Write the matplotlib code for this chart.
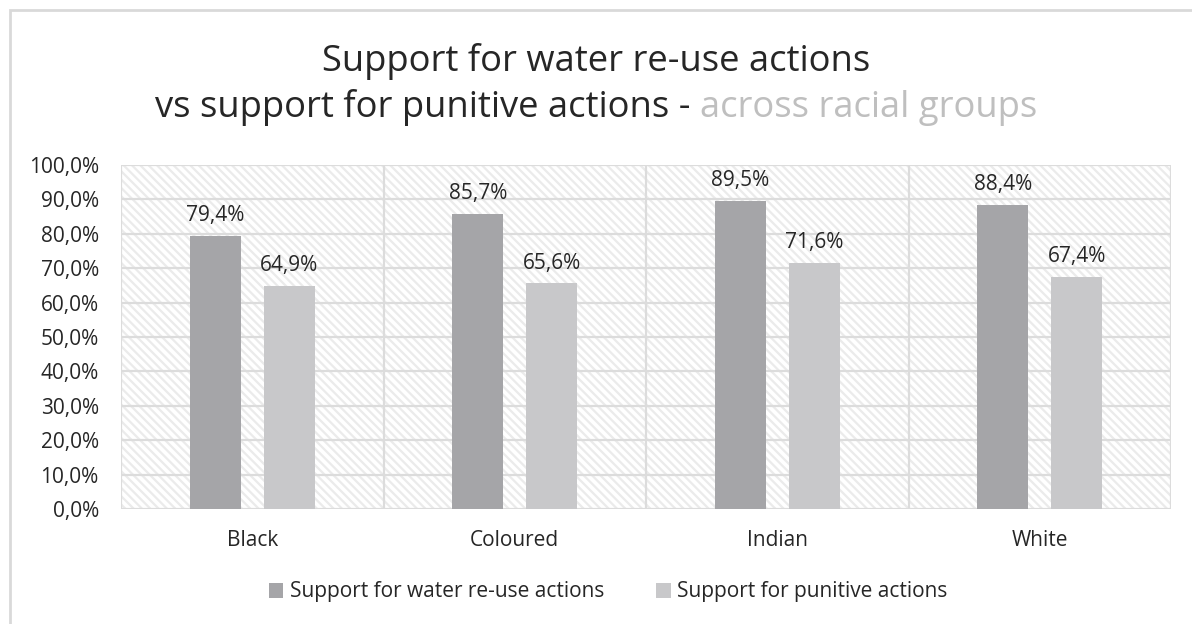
import matplotlib
matplotlib.use("Agg")
import matplotlib.pyplot as plt
from matplotlib.patches import Rectangle
import numpy as np

plt.rcParams['font.family'] = ['Open Sans', 'DejaVu Sans']
plt.rcParams['hatch.linewidth'] = 1.6

groups = ["Black", "Coloured", "Indian", "White"]
reuse = [79.4, 85.7, 89.5, 88.4]
punitive = [64.9, 65.6, 71.6, 67.4]
series_names = ["Support for water re-use actions", "Support for punitive actions"]
ytick_vals = list(range(0, 101, 10))

c_dark = '#a5a5a8'
c_light = '#c8c8ca'
grid_c = '#dcdcdc'
hatch_c = '#ebebeb'
text_c = '#262626'
fs = 15

fig = plt.figure(figsize=(11.92, 6.24), dpi=100)
fig.patch.set_facecolor('white')

# outer chart frame (extends past the right/bottom edges)
fig.patches.append(Rectangle((10 / 1192, -0.05), 1.2, 1 - 10 / 624 + 0.05,
                             transform=fig.transFigure, fill=False,
                             edgecolor='#d9d9d9', linewidth=2.0))

L, R, B, T = 121 / 1192, 1171 / 1192, 1 - 509 / 624, 1 - 165 / 624
ax = fig.add_axes([L, B, R - L, T - B])
ax.set_xlim(-0.5, len(groups) - 0.5)
ax.set_ylim(0, 100)

# patterned plot background
ax.add_patch(Rectangle((0, 0), 1, 1, transform=ax.transAxes, facecolor='white',
                       edgecolor=hatch_c, linewidth=0, hatch='\\\\\\\\', zorder=0))

for y in ytick_vals:
    ax.axhline(y, color=grid_c, linewidth=1.6, zorder=1)
for xb in np.arange(-0.5, len(groups), 1.0):
    ax.axvline(xb, color=grid_c, linewidth=1.6, zorder=1)

x = np.arange(len(groups))
w = 0.195
off = 0.141
b1 = ax.bar(x - off, reuse, w, color=c_dark, zorder=2, label=series_names[0])
b2 = ax.bar(x + off, punitive, w, color=c_light, zorder=2, label=series_names[1])

for bars, vals in ((b1, reuse), (b2, punitive)):
    for rect, v in zip(bars, vals):
        ax.annotate(f"{v:.1f}%".replace('.', ','),
                    (rect.get_x() + rect.get_width() / 2, v),
                    xytext=(0, 7), textcoords='offset points',
                    ha='center', va='bottom', fontsize=fs, color=text_c)

for s in ax.spines.values():
    s.set_visible(False)
ax.set_yticks(ytick_vals)
ax.set_yticklabels([f"{v:.1f}%".replace('.', ',') for v in ytick_vals],
                   fontsize=fs, color=text_c)
ax.set_xticks(x)
ax.set_xticklabels(groups, fontsize=fs, color=text_c)
ax.tick_params(axis='both', length=0)
ax.tick_params(axis='y', pad=16)
ax.tick_params(axis='x', pad=15)

leg = fig.legend(handles=[b1, b2], labels=series_names, loc='center',
                 bbox_to_anchor=(608 / 1192, 1 - 592 / 624), ncol=2, frameon=False,
                 fontsize=fs, handlelength=0.7, handleheight=0.7,
                 handletextpad=0.3, columnspacing=2.5)
for t in leg.get_texts():
    t.set_color(text_c)

# two-line title; the tail of the second line is greyed out
tfs = 26.2
fig.text(0.5, 1 - 62 / 624, "Support for water re-use actions", ha='center',
         va='center', fontsize=tfs, color=text_c)
part1 = fig.text(0, 1 - 108 / 624, "vs support for punitive actions - ",
                 ha='left', va='center', fontsize=tfs, color=text_c)
part2 = fig.text(0, 1 - 108 / 624, "across racial groups",
                 ha='left', va='center', fontsize=tfs, color='#bfbfbf')
fig.canvas.draw()
r = fig.canvas.get_renderer()
w1 = part1.get_window_extent(r).width
w2 = part2.get_window_extent(r).width
W = fig.bbox.width
start = (W - (w1 + w2)) / 2
part1.set_x(start / W)
part2.set_x((start + w1) / W)

fig.savefig("out.png", dpi=100, facecolor='white')
